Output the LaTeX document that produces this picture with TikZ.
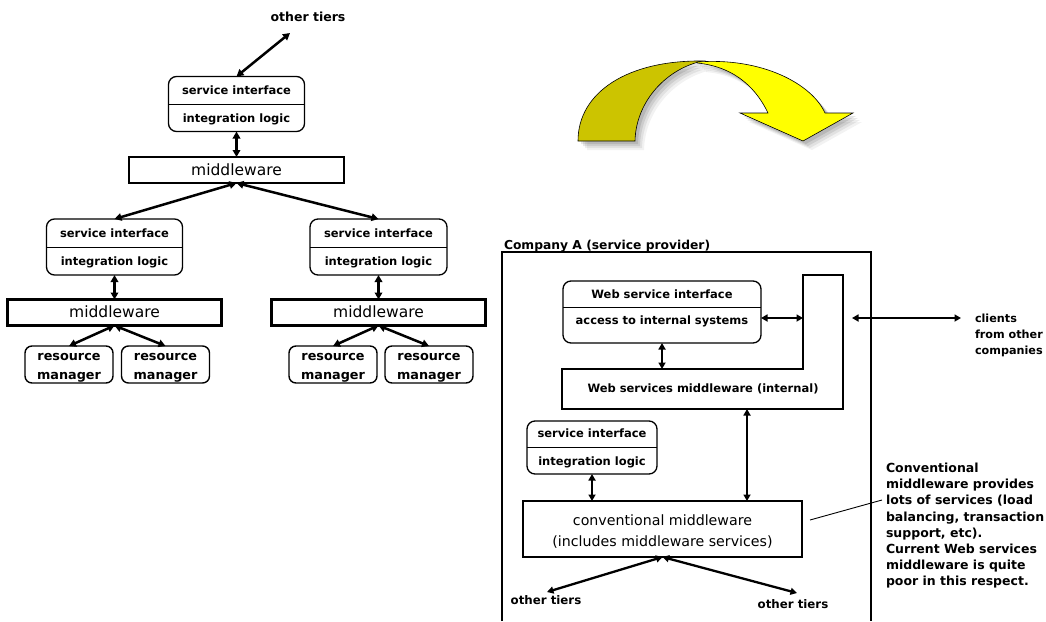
\documentclass[tikz,border=0pt]{standalone}
\usepackage{fontspec}
\setmainfont{DejaVu Sans}
\usetikzlibrary{arrows.meta,calc}

% font shortcuts
\newcommand\lblfont{\fontsize{11.5}{13}\selectfont\bfseries}
\newcommand\mwfont{\fontsize{15.5}{18}\selectfont}
\newcommand\rmfont{\fontsize{12.8}{19}\selectfont\bfseries}
\newcommand\notefont{\fontsize{12.5}{16.2}\selectfont\bfseries}

% two-part box: name, x, y, width, height, upper text, lower text
\newcommand\tierbox[7]{%
  \node[tier, minimum width=#4pt, minimum height=#5pt] (#1) at (#2,#3) {};
  \draw[hbar] (#1.west) -- (#1.east);
  \node[lbl] (#1-t) at ([yshift=13pt]#1.center) {#6};
  \node[lbl] (#1-b) at ([yshift=-15pt]#1.center) {#7};
}

% resource manager box: name, x, y
\newcommand\rmbox[3]{%
  \node[rmgr] (#1) at (#2,#3) {};
  \node[rmtext] (#1-x) at ([yshift=-3pt]#1.center) {resource\\manager};
}

% the curved yellow arrow
\newcommand\backpart{(578,141) .. controls (578,92) and (628,60) .. (703,61)
  .. controls (668,68) and (636,100) .. (635,141) -- cycle}
\newcommand\frontpart{(697,62) .. controls (762,57) and (812,84) .. (825,113)
  -- (853,113) -- (803,141) -- (740,113) -- (768,113)
  .. controls (758,92) and (738,67) .. (697,63) -- cycle}

\begin{document}
\begin{tikzpicture}[x=1pt,y=-1pt,
  every node/.style={inner sep=0pt, outer sep=0pt},
  lbl/.style={font=\lblfont, text height=8.5pt, text depth=2.5pt},
  tier/.style={draw, line width=1.3pt, rounded corners=8pt},
  hbar/.style={line width=1pt},
  mw/.style={draw, line width=2.8pt, font=\mwfont, text height=10pt, text depth=0pt,
             minimum height=26pt},
  rmgr/.style={draw, line width=1.4pt, rounded corners=7pt,
               minimum width=88pt, minimum height=37pt},
  rmtext/.style={align=center, font=\rmfont},
  link/.style={line width=2.5pt, {Triangle[length=7pt,width=7.5pt]}-{Triangle[length=7pt,width=7.5pt]}},
  rlink/.style={line width=2.3pt, {Triangle[length=6.5pt,width=7pt]}-{Triangle[length=6.5pt,width=7pt]}},
  ylw/.style={draw=black, line width=0.6pt},
]
\useasboundingbox (0,0) rectangle (1046,621);

% ---------------- left: tiered architecture ----------------
\node[lbl, font=\fontsize{12.5}{14}\selectfont\bfseries] (ot1) at (308,18) {other tiers};
\coordinate (ot1-end) at (290,33);

\tierbox{tA}{236.5}{104}{136}{55}{service interface}{integration logic}
\node[mw, minimum width=215pt] (mwA) at (236.5,170) {middleware};

\tierbox{tL}{114.5}{247}{136}{56}{service interface}{integration logic}
\tierbox{tR}{378.5}{247}{137}{56}{service interface}{integration logic}

\node[mw, minimum width=214pt] (mwL) at (114.5,312.5) {middleware};
\node[mw, minimum width=214pt] (mwR) at (378.5,312.5) {middleware};

\rmbox{rm1}{69}{364.5}
\rmbox{rm2}{165.5}{364.5}
\rmbox{rm3}{333}{364.5}
\rmbox{rm4}{429}{364.5}

\draw[link] (tA.north) -- (ot1-end);
\draw[link] (tA.south) -- (mwA.north);
\draw[link] (mwA.south) -- (tL.north);
\draw[link] (mwA.south) -- (tR.north);
\draw[link] (tL.south) -- (mwL.north);
\draw[link] (tR.south) -- (mwR.north);
\draw[link] (mwL.south) -- (rm1.north);
\draw[link] (mwL.south) -- (rm2.north);
\draw[link] (mwR.south) -- (rm3.north);
\draw[link] (mwR.south) -- (rm4.north);

% ---------------- curved transition arrow ----------------
\foreach \s/\o in {3/0.10, 5/0.09, 7/0.07, 9/0.05} {
  \fill[black, opacity=\o, shift={(\s,\s)}] \backpart;
  \fill[black, opacity=\o, shift={(\s,\s)}] \frontpart;
}
\filldraw[ylw, fill={rgb,255:red,204;green,196;blue,0}] \backpart;
\filldraw[ylw, fill={rgb,255:red,255;green,255;blue,0}] \frontpart;

% ---------------- right: company A ----------------
\node[font=\fontsize{12.3}{14}\selectfont\bfseries, anchor=base west] (coA) at (504,249)
  {Company A (service provider)};
\draw[line width=1.2pt] (502,621) -- (502,252) -- (871,252) -- (871,621);

% web service interface box
\node[tier, minimum width=198pt, minimum height=62pt] (ws) at (662,312) {};
\draw[hbar] ([yshift=5pt]ws.west) -- ([yshift=5pt]ws.east);
\node[lbl] (ws-t) at ([yshift=17pt]ws.center) {Web service interface};
\node[lbl] (ws-b) at ([yshift=-9pt]ws.center) {access to internal systems};

% L-shaped web services middleware
\coordinate (L1) at (562,369);
\coordinate (L2) at (803,369);
\coordinate (L3) at (803,275);
\coordinate (L4) at (843,275);
\coordinate (L5) at (843,409);
\coordinate (L6) at (562,409);
\draw[line width=1.3pt] (L1) -- (L2) -- (L3) -- (L4) -- (L5) -- (L6) -- cycle;
\node[lbl] (wsm) at (703,389) {Web services middleware (internal)};
\coordinate (L-in) at (803,318);
\coordinate (L-out) at (852,318);
\coordinate (L-ws) at (662,369);
\coordinate (L-bot) at (747,409);

% clients
\node[font=\fontsize{11.2}{16}\selectfont\bfseries, align=left, anchor=north west] (cl) at (975,314)
  {clients\\from other\\companies};
\coordinate (cl-end) at (961,318);

% service interface and conventional middleware
\tierbox{sR}{592}{447.5}{130}{53}{service interface}{integration logic}
\node[draw, line width=2.8pt, minimum width=279pt, minimum height=56pt] (cm) at (662.5,529) {};
\node[align=center, font=\fontsize{14.2}{21}\selectfont] (cm-x) at ([yshift=-3pt]cm.center)
  {conventional middleware\\(includes middleware services)};

\coordinate (ot-l) at (547,592);
\coordinate (ot-r) at (797,593);
\node[font=\fontsize{11.8}{14}\selectfont\bfseries] (ot2) at (546,600) {other tiers};
\node[font=\fontsize{11.8}{14}\selectfont\bfseries] (ot3) at (793,604) {other tiers};

\draw[rlink] ([yshift=-6pt]ws.east) -- (L-in);
\draw[rlink] (L-out) -- (cl-end);
\draw[rlink] (ws.south) -- (L-ws);
\draw[rlink] (L-bot) -- (L-bot |- cm.north);
\draw[rlink] (sR.south) -- (sR.south |- cm.north);
\draw[rlink] (cm.south) -- (ot-l);
\draw[rlink] (cm.south) -- (ot-r);

% note on conventional middleware
\node[font=\notefont, align=left, anchor=north west] (note) at (886,463)
  {Conventional\\middleware provides\\lots of services (load\\balancing, transaction\\support, etc).\\Current Web services\\middleware is quite\\poor in this respect.};
\coordinate (note-pt) at (882,500);
\draw[line width=0.9pt] (cm.east |- 0,520) ++(8,0) coordinate (cm-pt) -- (note-pt);

\end{tikzpicture}
\end{document}
